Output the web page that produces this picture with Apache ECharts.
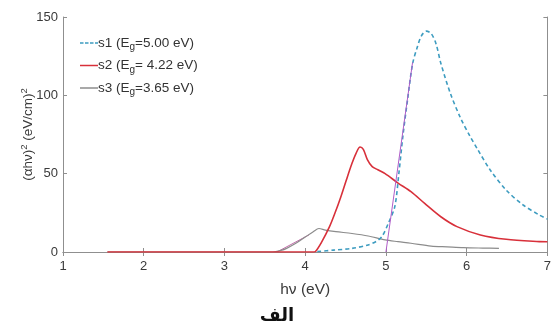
<!DOCTYPE html>
<html>
<head>
<meta charset="utf-8">
<script src="https://cdn.jsdelivr.net/npm/echarts@6/dist/echarts.min.js"></script>
<style>
  html, body { margin: 0; padding: 0; background: #fff; }
  #chart { width: 554px; height: 331px; }
</style>
</head>
<body>
<div id="chart"></div>
<script>
// photon energy (eV) / (alpha h nu)^2 values
const s1X = [4.15, 4.35, 4.58, 4.78, 4.88, 4.95, 5.03, 5.11, 5.16, 5.21, 5.27, 5.33, 5.39, 5.44, 5.50, 5.56, 5.62, 5.68, 5.80, 5.92, 6.04, 6.13, 6.29, 6.49, 6.70, 6.90, 7.0]
const s1Y = [0.3, 1.2, 2.3, 4.5, 6.8, 9.8, 18.3, 29, 50, 74, 98, 120, 131, 138, 141, 139.5, 133, 120.5, 101, 86, 74, 66, 52.5, 39.5, 30, 23.6, 21]

const s2X = [1.55, 4.10, 4.13, 4.20, 4.30, 4.37, 4.44, 4.51, 4.58, 4.63, 4.68, 4.72, 4.77, 4.83, 4.90, 4.99, 5.15, 5.31, 5.48, 5.68, 5.88, 6.17, 6.49, 6.90, 7.0]
const s2Y = [0, 0, 0.5, 6, 16, 25, 35, 46, 56.6, 63, 67, 65.5, 59, 54.5, 52.5, 50, 44, 38.5, 31, 22.5, 16.2, 10.9, 8.1, 6.6, 6.5]

const s3X = [1.55, 3.60, 3.70, 3.77, 3.90, 4.00, 4.10, 4.17, 4.25, 4.38, 4.58, 4.78, 4.99, 5.15, 5.31, 5.56, 5.76, 5.96, 6.20, 6.40]
const s3Y = [0, 0, 1, 2.3, 6, 9.5, 13, 15, 14, 13, 11.8, 10.2, 7.7, 6.6, 5.6, 3.8, 3.3, 2.8, 2.5, 2.3]

// Tauc extrapolation lines
const fit1X = [5.0, 5.33]
const fit1Y = [0, 121]
const fit3X = [3.65, 4.05]
const fit3Y = [0, 11]

const legendNames = ['s1', 's2', 's3']
const legendText = {
	s1: 's1 (E{sub|g}=5.00 eV)',
	s2: 's2 (E{sub|g}= 4.22 eV)',
	s3: 's3 (E{sub|g}=3.65 eV)'
}

const xTicks = { min: 1, max: 7, interval: 1 }
const yTicks = { min: 0, max: 150, interval: 50 }

const pairs = (xs, ys) => xs.map((x, i) => [x, ys[i]])

const axisGray = '#8f8f8f'
const labelColor = '#3a3a3a'
const font = 'Liberation Sans, Arial, sans-serif'

const dashIcon = 'path://M0 0H3.5V1.5H0Z M5 0H8.5V1.5H5Z M10 0H13.5V1.5H10Z M15 0H18V1.5H15Z'
const solidIcon = 'path://M0 0H18V1.5H0Z'

const chart = echarts.init(document.getElementById('chart'))

const boxAxis = {
	axisLine: { show: true, lineStyle: { color: axisGray, width: 1 } },
	axisTick: { show: true, inside: true, length: 4, lineStyle: { color: axisGray } },
	splitLine: { show: false }
}

const option = {
	animation: false,
	backgroundColor: '#fff',
	title: {
		text: 'الف',
		left: 'center',
		top: 302,
		textStyle: { fontSize: 18, fontWeight: 'bold', color: '#111', fontFamily: 'Noto Sans, DejaVu Sans, sans-serif' }
	},
	grid: { left: 63, right: 1, top: 17, bottom: 79 },
	legend: {
		data: [
			{ name: 's1', icon: dashIcon },
			{ name: 's2', icon: solidIcon },
			{ name: 's3', icon: solidIcon }
		],
		orient: 'vertical',
		left: 75,
		top: 31,
		itemWidth: 18,
		itemHeight: 2,
		itemGap: 6,
		formatter: name => legendText[name],
		textStyle: {
			fontSize: 13.5,
			color: '#333',
			fontFamily: font,
			padding: [0, 0, 0, -5],
			rich: {
				sub: { fontSize: 10, color: '#333', fontFamily: font, padding: [9, 0, 0, 0] }
			}
		}
	},
	xAxis: [
		Object.assign({
			type: 'value',
			min: xTicks.min,
			max: xTicks.max,
			interval: xTicks.interval,
			name: 'h\u03BD (eV)',
			nameLocation: 'middle',
			nameGap: 30,
			nameTextStyle: { fontSize: 15.5, color: labelColor, fontFamily: font },
			axisLabel: { fontSize: 13, color: labelColor, fontFamily: font, margin: 8 }
		}, boxAxis),
		Object.assign({
			type: 'value',
			position: 'top',
			min: xTicks.min,
			max: xTicks.max,
			interval: xTicks.interval,
			axisLabel: { show: false }
		}, boxAxis)
	],
	yAxis: [
		Object.assign({
			type: 'value',
			min: yTicks.min,
			max: yTicks.max,
			interval: yTicks.interval,
			name: '{n|(\u03B1h\u03BD)}{sup|2}{n| (eV/cm)}{sup|2}',
			nameLocation: 'middle',
			nameGap: 26,
			nameMoveOverlap: false,
			nameTextStyle: {
				color: labelColor,
				rich: {
					n: { fontSize: 13.5, color: labelColor, fontFamily: font },
					sup: { fontSize: 9.5, color: labelColor, fontFamily: font, padding: [0, 0, 8, 0] }
				}
			},
			axisLabel: { fontSize: 13, color: labelColor, fontFamily: font, margin: 5 }
		}, boxAxis),
		Object.assign({
			type: 'value',
			position: 'right',
			min: yTicks.min,
			max: yTicks.max,
			interval: yTicks.interval,
			axisLabel: { show: false }
		}, boxAxis)
	],
	series: [
		{
			name: 's3',
			type: 'line',
			data: pairs(s3X, s3Y),
			smooth: 0.3,
			showSymbol: false,
			symbol: 'none',
			lineStyle: { color: '#8c8c8c', width: 1.2 },
			itemStyle: { color: '#8c8c8c' },
			z: 2
		},
		{
			name: 's2',
			type: 'line',
			data: pairs(s2X, s2Y),
			smooth: 0.3,
			showSymbol: false,
			symbol: 'none',
			lineStyle: { color: '#d8303a', width: 1.6 },
			itemStyle: { color: '#d8303a' },
			z: 3
		},
		{
			name: 's1',
			type: 'line',
			data: pairs(s1X, s1Y),
			smooth: 0.3,
			showSymbol: false,
			symbol: 'none',
			lineStyle: { color: '#3d9cc0', width: 1.6, type: [4, 3] },
			itemStyle: { color: '#3d9cc0' },
			z: 4
		},
		{
			name: 'fit1',
			type: 'line',
			data: pairs(fit1X, fit1Y),
			showSymbol: false,
			symbol: 'none',
			lineStyle: { color: '#b05cc8', width: 1 },
			z: 5
		},
		{
			name: 'fit3',
			type: 'line',
			data: pairs(fit3X, fit3Y),
			showSymbol: false,
			symbol: 'none',
			lineStyle: { color: '#c06aa8', width: 1 },
			z: 1
		}
	]
}

chart.setOption(option)
</script>
</body>
</html>
